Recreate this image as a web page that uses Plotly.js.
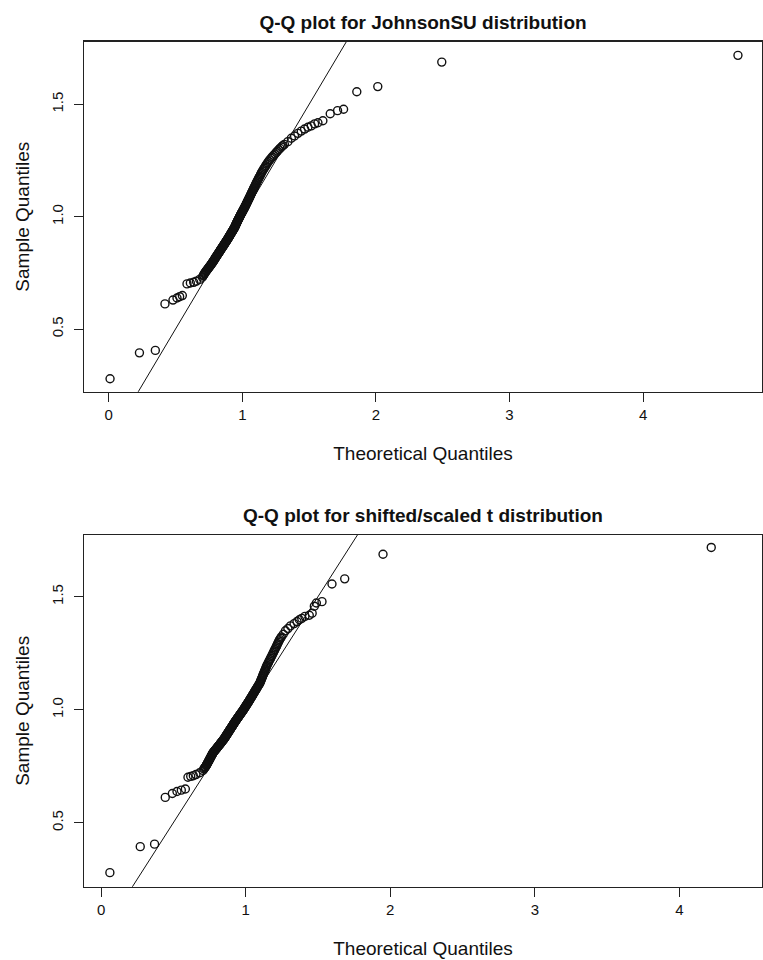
<!DOCTYPE html>
<html>
<head>
<meta charset="utf-8">
<script src="https://cdn.plot.ly/plotly-3.0.1.min.js"></script>
<style>
  html, body { margin: 0; padding: 0; background: #ffffff; }
  #chart { width: 763px; height: 960px; }
</style>
</head>
<body>
<div id="chart"></div>
<script>
// ---- Data ----
// Sample quantiles (same sample used in both panels, sorted)
const sampleQ = [
  0.279, 0.394, 0.405, 0.612, 0.629, 0.638, 0.644, 0.649, 0.701, 0.705, 0.708, 0.713, 0.721, 0.731,
  0.738, 0.741, 0.745, 0.748, 0.752, 0.755, 0.758, 0.761, 0.764, 0.767, 0.770, 0.773, 0.776, 0.778, 0.781, 0.784, 0.787, 0.789, 0.792, 0.795,
  0.798, 0.800, 0.803, 0.805, 0.808, 0.811, 0.814, 0.816, 0.819, 0.821, 0.824, 0.826, 0.829, 0.831, 0.834, 0.836, 0.839, 0.841, 0.844, 0.846,
  0.849, 0.851, 0.853, 0.855, 0.858, 0.860, 0.862, 0.864, 0.867, 0.869, 0.871, 0.873, 0.876, 0.878, 0.880, 0.882, 0.884, 0.886, 0.889, 0.891,
  0.893, 0.895, 0.897, 0.899, 0.902, 0.904, 0.906, 0.908, 0.910, 0.912, 0.914, 0.916, 0.918, 0.920, 0.923, 0.925, 0.927, 0.929, 0.931, 0.933,
  0.935, 0.937, 0.939, 0.941, 0.944, 0.946, 0.948, 0.950, 0.952, 0.954, 0.957, 0.959, 0.961, 0.963, 0.965, 0.967, 0.970, 0.972, 0.974, 0.976,
  0.979, 0.981, 0.983, 0.985, 0.988, 0.990, 0.992, 0.994, 0.997, 0.999, 1.002, 1.004, 1.007, 1.009, 1.012, 1.014, 1.017, 1.019, 1.022, 1.024,
  1.027, 1.030, 1.033, 1.035, 1.038, 1.041, 1.044, 1.047, 1.050, 1.053, 1.056, 1.059, 1.062, 1.065, 1.068, 1.071, 1.075, 1.078, 1.082, 1.085,
  1.089, 1.092, 1.096, 1.100, 1.104, 1.108, 1.112, 1.116, 1.120, 1.124, 1.128, 1.132, 1.137, 1.141, 1.146, 1.150, 1.155, 1.160, 1.165, 1.170,
  1.175, 1.180, 1.186, 1.191, 1.197, 1.203, 1.209, 1.215, 1.221, 1.227, 1.234, 1.240, 1.247, 1.253, 1.260, 1.266, 1.273, 1.279, 1.286, 1.292,
  1.298, 1.304, 1.310, 1.316, 1.322,
  1.334, 1.349, 1.359, 1.371, 1.381, 1.390, 1.398, 1.404, 1.413, 1.418,
  1.427, 1.458, 1.472, 1.478, 1.556, 1.579, 1.688, 1.718
];

// Theoretical quantiles, JohnsonSU fit (top panel)
const theoJSU = [
  0.010, 0.230, 0.349, 0.421, 0.481, 0.511, 0.531, 0.551, 0.586, 0.611, 0.636, 0.656, 0.681, 0.701,
  0.708, 0.711, 0.715, 0.718, 0.722, 0.726, 0.730, 0.733, 0.737, 0.741, 0.745, 0.748, 0.752, 0.755, 0.759, 0.762, 0.766, 0.769, 0.772, 0.775,
  0.779, 0.781, 0.784, 0.787, 0.790, 0.793, 0.796, 0.798, 0.801, 0.804, 0.807, 0.809, 0.812, 0.815, 0.818, 0.820, 0.823, 0.826, 0.829, 0.831,
  0.834, 0.836, 0.838, 0.841, 0.844, 0.846, 0.848, 0.851, 0.854, 0.856, 0.858, 0.861, 0.864, 0.866, 0.868, 0.870, 0.872, 0.875, 0.878, 0.880,
  0.882, 0.884, 0.887, 0.889, 0.892, 0.894, 0.896, 0.898, 0.900, 0.902, 0.904, 0.906, 0.908, 0.910, 0.913, 0.915, 0.917, 0.919, 0.921, 0.923,
  0.925, 0.927, 0.929, 0.931, 0.934, 0.936, 0.938, 0.940, 0.942, 0.944, 0.946, 0.947, 0.949, 0.950, 0.952, 0.954, 0.956, 0.957, 0.959, 0.961,
  0.963, 0.964, 0.966, 0.968, 0.970, 0.972, 0.974, 0.976, 0.978, 0.980, 0.982, 0.984, 0.986, 0.988, 0.991, 0.993, 0.995, 0.997, 1.000, 1.002,
  1.004, 1.007, 1.010, 1.012, 1.014, 1.017, 1.020, 1.022, 1.025, 1.027, 1.030, 1.032, 1.035, 1.037, 1.039, 1.042, 1.045, 1.048, 1.051, 1.053,
  1.056, 1.059, 1.062, 1.065, 1.068, 1.071, 1.075, 1.078, 1.081, 1.084, 1.087, 1.091, 1.095, 1.098, 1.102, 1.105, 1.109, 1.113, 1.118, 1.122,
  1.126, 1.131, 1.136, 1.140, 1.145, 1.151, 1.157, 1.163, 1.170, 1.176, 1.183, 1.190, 1.197, 1.206, 1.215, 1.224, 1.234, 1.244, 1.254, 1.263,
  1.272, 1.282, 1.292, 1.303, 1.315,
  1.341, 1.367, 1.391, 1.416, 1.441, 1.466, 1.491, 1.516, 1.541, 1.566,
  1.603, 1.658, 1.713, 1.758, 1.857, 2.014, 2.493, 4.710
];

// Theoretical quantiles, shifted/scaled t fit (bottom panel)
const theoT = [
  0.061, 0.271, 0.370, 0.444, 0.493, 0.525, 0.555, 0.583, 0.601, 0.620, 0.638, 0.656, 0.682, 0.705,
  0.711, 0.715, 0.719, 0.723, 0.727, 0.729, 0.732, 0.734, 0.737, 0.739, 0.742, 0.744, 0.747, 0.749, 0.751, 0.753, 0.756, 0.758, 0.760, 0.762,
  0.765, 0.767, 0.769, 0.771, 0.773, 0.776, 0.780, 0.783, 0.786, 0.789, 0.793, 0.796, 0.799, 0.802, 0.805, 0.808, 0.811, 0.814, 0.818, 0.821,
  0.824, 0.826, 0.829, 0.832, 0.835, 0.837, 0.840, 0.843, 0.846, 0.848, 0.851, 0.853, 0.856, 0.858, 0.860, 0.862, 0.864, 0.866, 0.869, 0.871,
  0.873, 0.875, 0.877, 0.879, 0.882, 0.884, 0.886, 0.888, 0.890, 0.892, 0.894, 0.896, 0.898, 0.900, 0.903, 0.905, 0.907, 0.909, 0.911, 0.913,
  0.915, 0.917, 0.919, 0.921, 0.924, 0.926, 0.928, 0.930, 0.932, 0.935, 0.938, 0.940, 0.942, 0.944, 0.947, 0.949, 0.952, 0.954, 0.956, 0.959,
  0.962, 0.964, 0.966, 0.969, 0.972, 0.974, 0.976, 0.979, 0.982, 0.984, 0.987, 0.989, 0.992, 0.994, 0.997, 0.999, 1.002, 1.004, 1.007, 1.009,
  1.012, 1.015, 1.018, 1.020, 1.023, 1.026, 1.029, 1.031, 1.034, 1.037, 1.040, 1.043, 1.046, 1.048, 1.051, 1.054, 1.058, 1.061, 1.064, 1.067,
  1.071, 1.074, 1.078, 1.081, 1.085, 1.089, 1.093, 1.096, 1.100, 1.102, 1.105, 1.107, 1.110, 1.113, 1.116, 1.118, 1.121, 1.124, 1.128, 1.131,
  1.134, 1.137, 1.141, 1.144, 1.148, 1.153, 1.158, 1.162, 1.167, 1.172, 1.177, 1.182, 1.187, 1.192, 1.197, 1.202, 1.207, 1.212, 1.217, 1.221,
  1.226, 1.230, 1.235, 1.241, 1.247,
  1.260, 1.275, 1.292, 1.310, 1.335, 1.355, 1.372, 1.388, 1.410, 1.440,
  1.460, 1.475, 1.489, 1.528, 1.597, 1.685, 1.950, 4.220
];

// Reference line (intercept 0, slope 1) end points in x
const refLineX = [-1, 6];
const refLineSlope = 1;
const refLineIntercept = 0;

// Text
const titleTop = "Q-Q plot for JohnsonSU distribution";
const titleBottom = "Q-Q plot for shifted/scaled t distribution";
const xTitle = "Theoretical Quantiles";
const yTitle = "Sample Quantiles";
const xTickVals = [0, 1, 2, 3, 4];
const xTickText = ["0", "1", "2", "3", "4"];
const yTickVals = [0.5, 1.0, 1.5];
const yTickText = ["0.5", "1.0", "1.5"];

// ---- Figure ----
const W = 763, H = 960;
const FONT = "Liberation Sans, Arial, sans-serif";
const refLineY = refLineX.map(x => refLineIntercept + refLineSlope * x);

const markerStyle = { symbol: "circle-open", size: 8, color: "#111", line: { width: 1.4, color: "#111" } };

const traces = [
  { type: "scatter", mode: "markers", x: theoJSU, y: sampleQ, xaxis: "x", yaxis: "y",
    marker: markerStyle, showlegend: false, hoverinfo: "x+y" },
  { type: "scatter", mode: "lines", x: refLineX, y: refLineY, xaxis: "x", yaxis: "y",
    line: { color: "#111", width: 1 }, showlegend: false, hoverinfo: "skip" },
  { type: "scatter", mode: "markers", x: theoT, y: sampleQ, xaxis: "x2", yaxis: "y2",
    marker: markerStyle, showlegend: false, hoverinfo: "x+y" },
  { type: "scatter", mode: "lines", x: refLineX, y: refLineY, xaxis: "x2", yaxis: "y2",
    line: { color: "#111", width: 1 }, showlegend: false, hoverinfo: "skip" }
];

const xDomain = [84 / W, 762 / W];
const yDomTop = [1 - 391.7 / H, 1 - 41.7 / H];
const yDomBot = [1 - 886.7 / H, 1 - 535 / H];

function xAxis(range, anchor) {
  return {
    domain: xDomain, range: range, anchor: anchor,
    tickmode: "array", tickvals: xTickVals, ticktext: xTickText,
    ticks: "outside", ticklen: 9, tickwidth: 1, tickcolor: "#222",
    showline: true, mirror: true, linecolor: "#222", linewidth: 1.5,
    showgrid: false, zeroline: false,
    tickfont: { family: FONT, size: 15, color: "#111" },
    ticklabelstandoff: 0,
    title: { text: xTitle, font: { family: FONT, size: 19, color: "#111" }, standoff: 24 },
    automargin: false, fixedrange: true
  };
}
function yAxis(range, anchor) {
  return {
    domain: anchor === "x" ? yDomTop : yDomBot, range: range, anchor: anchor,
    tickmode: "array", tickvals: yTickVals, ticktext: yTickText,
    ticks: "outside", ticklen: 9, tickwidth: 1, tickcolor: "#222",
    showline: true, mirror: true, linecolor: "#222", linewidth: 1.5,
    showgrid: false, zeroline: false, tickangle: -90,
    tickfont: { family: FONT, size: 15, color: "#111" },
    ticklabelstandoff: 5,
    title: { text: yTitle, font: { family: FONT, size: 19, color: "#111" }, standoff: 14 },
    automargin: false, fixedrange: true
  };
}

const layout = {
  width: W, height: H,
  margin: { l: 0, r: 0, t: 0, b: 0, pad: 0 },
  paper_bgcolor: "#ffffff", plot_bgcolor: "#ffffff",
  showlegend: false,
  title: {
    text: "<b>" + titleTop + "</b>",
    font: { family: FONT, size: 19, color: "#111" },
    x: 423 / W, xanchor: "center", xref: "paper",
    y: 1 - 22 / H, yanchor: "middle", yref: "paper"
  },
  xaxis: xAxis([-0.185, 4.89], "y"),
  yaxis: yAxis([0.2212, 1.7788], "x"),
  xaxis2: xAxis([-0.118, 4.571], "y2"),
  yaxis2: yAxis([0.2168, 1.773], "x2"),
  annotations: [
    { text: "<b>" + titleBottom + "</b>", xref: "paper", yref: "paper",
      x: 423 / W, y: 1 - 515 / H, xanchor: "center", yanchor: "middle",
      showarrow: false, font: { family: FONT, size: 19, color: "#111" } }
  ]
};

Plotly.newPlot("chart", traces, layout, { staticPlot: true, displayModeBar: false });
</script>
</body>
</html>
